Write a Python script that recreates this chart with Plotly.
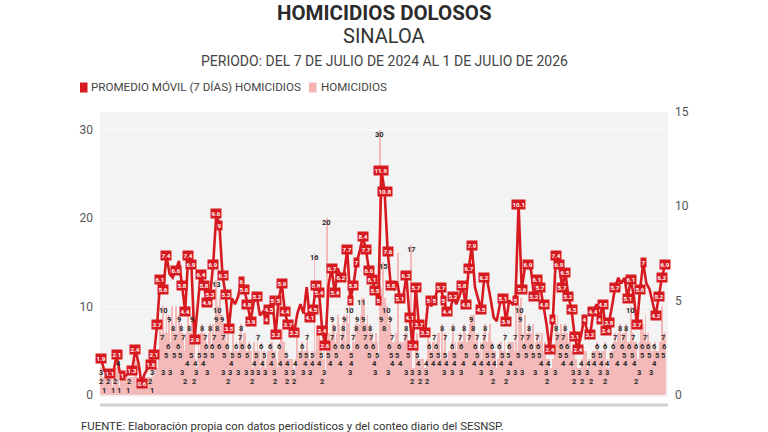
import pandas as pd
import plotly.graph_objects as go

# ---------------- data ----------------
# 7-day moving average, one reading every 4 days (right axis)
promedio_movil = [
    1.9, 1.3, 1.1, 1.1, 1.2, 2.1, 1.2, 1.0, 1.0, 1.2,
    1.3, 2.4, 1.7, 0.6, 1.1, 1.4, 1.6, 2.1, 3.7, 6.1,
    5.6, 7.4, 6.4, 6.2, 6.6, 7.1, 5.8, 4.4, 7.4, 6.9,
    2.9, 4.5, 6.4, 5.8, 4.9, 5.3, 6.9, 9.6, 9.0, 6.3,
    5.3, 3.5, 5.1, 4.8, 5.2, 6.0, 5.6, 4.8, 3.9, 4.9,
    5.2, 4.2, 4.4, 4.0, 4.5, 5.0, 3.2, 5.0, 5.9, 4.4,
    3.7, 3.8, 3.3, 4.3, 4.8, 4.3, 5.7, 4.1, 4.5, 5.8,
    5.4, 3.4, 2.6, 5.8, 6.7, 5.4, 6.7, 6.2, 6.4, 7.7,
    5.0, 5.8, 7.0, 7.6, 8.4, 7.7, 6.6, 6.1, 5.5, 5.0,
    11.9, 10.8, 7.6, 5.8, 5.6, 6.0, 5.1, 5.2, 6.3, 4.1,
    2.6, 5.7, 3.7, 3.6, 3.3, 5.0, 4.7, 5.0, 5.6, 5.7,
    5.0, 4.4, 4.4, 5.2, 4.8, 5.2, 5.8, 4.8, 6.7, 7.9,
    5.7, 5.1, 4.5, 6.2, 6.0, 5.1, 4.1, 3.9, 4.8, 5.1,
    3.9, 5.0, 4.8, 5.0, 10.1, 5.6, 6.7, 6.9, 6.6, 5.2,
    6.1, 5.7, 4.8, 3.7, 2.4, 4.0, 7.4, 6.9, 5.7, 6.5,
    5.2, 4.5, 3.1, 2.4, 3.1, 4.0, 3.4, 3.2, 4.4, 4.8,
    4.0, 4.8, 3.4, 3.8, 4.7, 5.7, 6.2, 5.9, 6.2, 5.1,
    6.1, 5.2, 3.7, 5.6, 7.0, 5.9, 5.6, 4.9, 4.2, 5.2,
    6.2, 6.9,
]

# daily homicides (left axis), 2024-07-07 .. 2026-07-01
homicidios = [
    3,2,2,2, 1,2,0,2, 2,0,2,1, 2,2,0,1, 1,2,2,0, 3,2,4,1, 0,2,1,2, 1,0,2,2, 0,2,1,0, 2,2,0,2,
    1,2,1,2, 3,4,2,1, 2,1,3,1, 0,2,1,0, 2,1,0,2, 1,2,2,1, 2,1,3,2, 2,3,2,2, 3,3,5,4, 8,5,7,3,
    10,3,7,5, 10,7,6,9, 5,3,6,10, 8,6,5,7, 10,5,7,6, 9,7,5,8, 3,7,6,5, 2,7,3,4, 10,8,7,6, 5,9,7,6,
    2,4,3,2, 4,7,5,3, 7,5,8,7, 4,7,5,6, 3,5,4,7, 8,3,5,6, 8,7,5,9, 13,8,10,9, 6,11,8,9, 3,7,5,8,
    3,5,6,7, 2,5,3,4, 5,8,3,5, 5,3,6,5, 3,5,7,6, 8,5,6,7, 5,7,3,5, 3,5,6,5, 3,5,3,2, 6,4,3,5,
    5,7,3,5, 3,3,6,4, 4,5,3,3, 3,4,5,3, 5,3,6,4, 6,5,3,5, 2,4,3,2, 5,6,4,7, 6,8,4,6, 4,3,5,4,
    2,4,4,3, 4,4,2,3, 2,2,4,3, 7,3,4,5, 5,5,6,3, 3,5,4,5, 6,7,5,4, 3,4,3,5, 4,3,16,3, 5,7,4,6,
    7,4,6,5, 2,4,3,5, 2,2,20,3, 5,7,4,6, 7,9,5,8, 4,6,5,7, 9,6,8,5, 4,7,6,8, 9,4,6,7, 9,8,6,10,
    3,5,4,6, 7,6,4,8, 9,6,8,7, 8,9,6,11, 9,8,11,7, 8,6,9,7, 5,8,6,7, 7,5,6,4, 3,7,5,6, 4,3,30,9,
    12,9,15,8, 9,11,8,10, 3,8,6,9, 5,7,4,6, 4,6,5,7, 5,16,5,6, 4,6,5,5, 6,4,7,3, 8,7,5,6, 3,5,17,3,
    2,2,3,2, 6,5,7,4, 3,4,2,4, 2,4,4,3, 2,3,4,2, 7,4,6,5, 4,5,6,4, 7,4,5,6, 5,7,7,4, 4,6,8,5,
    3,5,7,4, 4,3,5,4, 5,4,3,6, 8,5,4,6, 3,5,6,4, 5,7,3,6, 6,4,8,7, 5,3,6,4, 7,8,5,9, 9,8,7,9,
    4,6,5,7, 5,5,4,6, 3,4,6,4, 7,8,6,5, 6,4,7,8, 5,3,6,5, 2,4,5,3, 3,4,2,4, 6,6,4,5, 5,4,7,5,
    2,4,3,5, 6,4,6,5, 4,6,5,3, 7,12,3,5, 12,10,9,11, 7,3,5,6, 9,5,7,6, 7,8,5,7, 6,7,5,8, 5,3,6,5,
    7,6,5,7, 6,4,7,5, 4,5,6,3, 4,2,3,4, 2,2,3,2, 4,4,5,3, 8,7,9,7, 7,5,8,6, 5,7,4,6, 8,5,7,6,
    5,4,7,5, 4,5,3,5, 2,3,4,3, 2,2,3,2, 3,4,2,3, 5,3,4,5, 3,2,4,3, 3,4,2,3, 5,5,4,5, 5,6,4,5,
    5,3,4,5, 5,5,4,6, 2,3,4,3, 2,4,5,3, 5,4,6,5, 7,5,6,4, 7,6,8,4, 4,6,7,5, 7,4,8,6, 4,5,6,4,
    10,6,5,7, 6,4,5,6, 2,4,3,4, 6,8,5,6, 8,6,7,9, 6,5,7,6, 5,6,3,5, 3,5,4,6, 3,3,5,4, 5,5,6,5,
    10,7,5,6, 7,
]

fechas_dia = pd.date_range("2024-07-07", "2026-07-01", freq="D")
fechas_pm = pd.date_range("2024-07-07", periods=len(promedio_movil), freq="4D")
assert len(homicidios) == len(fechas_dia)

ticks_izq = [0, 10, 20, 30]
ticks_der = [0, 5, 10, 15]

titulo = "HOMICIDIOS DOLOSOS"
subtitulo = "SINALOA"
periodo = "PERIODO: DEL 7 DE JULIO DE 2024 AL 1 DE JULIO DE 2026"
ley_pm = "PROMEDIO MÓVIL (7 DÍAS) HOMICIDIOS"
ley_h = "HOMICIDIOS"
fuente = "FUENTE: Elaboración propia con datos periodísticos y del conteo diario del SESNSP."

# ---------------- style / layout ----------------
RED = "#d71a20"
PINK = "#f5b3b3"
FONT = "Roboto"
FW, FH = 768, 432
L, R, T, B = 100, 100, 112, 35
W, H = FW - L - R, FH - T - B
x0 = fechas_dia[0] - pd.Timedelta(days=1.3)
x1 = fechas_dia[-1] + pd.Timedelta(days=3.8)
YL = (-0.25, 32.0)
YR = (-0.13, 15.0)


def px_x(t):
    return L + (t - x0) / (x1 - x0) * W


def px_yl(v):
    return T + H - (v - YL[0]) / (YL[1] - YL[0]) * H


def px_yr(v):
    return T + H - (v - YR[0]) / (YR[1] - YR[0]) * H


def fx(px):
    return (px - L) / W


def fy(py):
    return (T + H - py) / H


fig = go.Figure()
fig.add_trace(go.Bar(
    x=fechas_dia, y=homicidios, name=ley_h,
    marker=dict(color=PINK, line=dict(width=0)), opacity=0.9,
    yaxis="y", showlegend=False,
))
fig.add_trace(go.Scatter(
    x=fechas_pm, y=promedio_movil, name=ley_pm, mode="lines",
    line=dict(color=RED, width=2.6), yaxis="y2", showlegend=False,
))

# ---------------- mark labels with simple collision avoidance ----------------
occupied = []


def free(cx, cy, w, h):
    for (ax, ay, aw, ah) in occupied:
        if abs(cx - ax) < (w + aw) / 2 and abs(cy - ay) < (h + ah) / 2:
            return False
    return True


def fmt(v):
    s = f"{v:.1f}"
    return s[:-2] if s.endswith(".0") else s


annotations = []
n = len(promedio_movil)


def prominence(i):
    win = promedio_movil[max(0, i - 2):i + 3]
    return abs(promedio_movil[i] - sum(win) / len(win))


for i in sorted(range(n), key=lambda i: -prominence(i)):
    v = promedio_movil[i]
    txt = fmt(v)
    cx, cy = px_x(fechas_pm[i]), px_yr(v)
    w, h = 3.5 * len(txt) + 2, 7.5
    if free(cx, cy, w, h):
        occupied.append((cx, cy, w, h))
        annotations.append(dict(
            x=fechas_pm[i], y=v, xref="x", yref="y2", text=f"<b>{txt}</b>", showarrow=False,
            font=dict(family=FONT, size=6.2, color="white"), bgcolor=RED, borderpad=0.5,
        ))

for i in sorted(range(len(homicidios)), key=lambda i: -homicidios[i]):
    v = homicidios[i]
    if v <= 0:
        continue
    txt = str(v)
    cx, cy = px_x(fechas_dia[i]), px_yl(v) + 4.5
    w, h = 4.6 * len(txt) + 1, 8
    if free(cx, cy, w, h):
        occupied.append((cx, cy, w, h))
        annotations.append(dict(
            x=fechas_dia[i], y=v, xref="x", yref="y", yshift=-4.5, text=f"<b>{txt}</b>",
            showarrow=False, font=dict(family=FONT, size=7.5, color="#2a2a2a"),
        ))


# ---------------- titles, legend, footer ----------------
def txt_ann(text, px, py, size, color="#333", anchor="center", bold=False):
    return dict(
        x=fx(px), y=fy(py), xref="paper", yref="paper", text=f"<b>{text}</b>" if bold else text,
        showarrow=False, xanchor=anchor, yanchor="middle",
        font=dict(family=FONT, size=size, color=color),
    )


annotations += [
    txt_ann(titulo, 384, 12.5, 20.5, "#2b2b2b", bold=True),
    txt_ann(subtitulo, 384, 36, 20, "#333"),
    txt_ann(periodo, 384, 61, 14, "#444"),
    txt_ann(ley_pm, 89, 87.5, 11.6, "#444", anchor="left"),
    txt_ann(ley_h, 319, 87.5, 11.6, "#444", anchor="left"),
    txt_ann(fuente, 79, 426, 11.4, "#333", anchor="left"),
]

shapes = [
    dict(type="rect", xref="paper", yref="paper", x0=fx(80), x1=fx(87.5), y0=fy(92.5), y1=fy(82.5),
         fillcolor=RED, line=dict(width=0), layer="above"),
    dict(type="rect", xref="paper", yref="paper", x0=fx(309), x1=fx(316.5), y0=fy(92.5), y1=fy(82.5),
         fillcolor=PINK, line=dict(width=0), layer="above"),
    dict(type="line", xref="paper", yref="paper", x0=fx(100), x1=fx(668), y0=fy(405), y1=fy(405),
         line=dict(color="#cfcfcf", width=3), layer="above"),
]

fig.update_layout(
    width=FW, height=FH,
    margin=dict(l=L, r=R, t=T, b=B, pad=0),
    paper_bgcolor="white", plot_bgcolor="#f3f3f3",
    bargap=0, showlegend=False,
    font=dict(family=FONT, size=12, color="#555"),
    xaxis=dict(range=[x0, x1], showticklabels=False, showgrid=False, zeroline=False, ticks=""),
    yaxis=dict(range=list(YL), tickvals=ticks_izq, showgrid=True, gridcolor="#fbfbfb", gridwidth=1,
               zeroline=False, ticks="", ticklabelstandoff=6, tickfont=dict(size=12, color="#555")),
    yaxis2=dict(range=list(YR), tickvals=ticks_der, overlaying="y", side="right", showgrid=False,
                zeroline=False, ticks="", ticklabelstandoff=6, tickfont=dict(size=12, color="#555")),
    annotations=annotations, shapes=shapes,
)

fig.write_html("out.html")
